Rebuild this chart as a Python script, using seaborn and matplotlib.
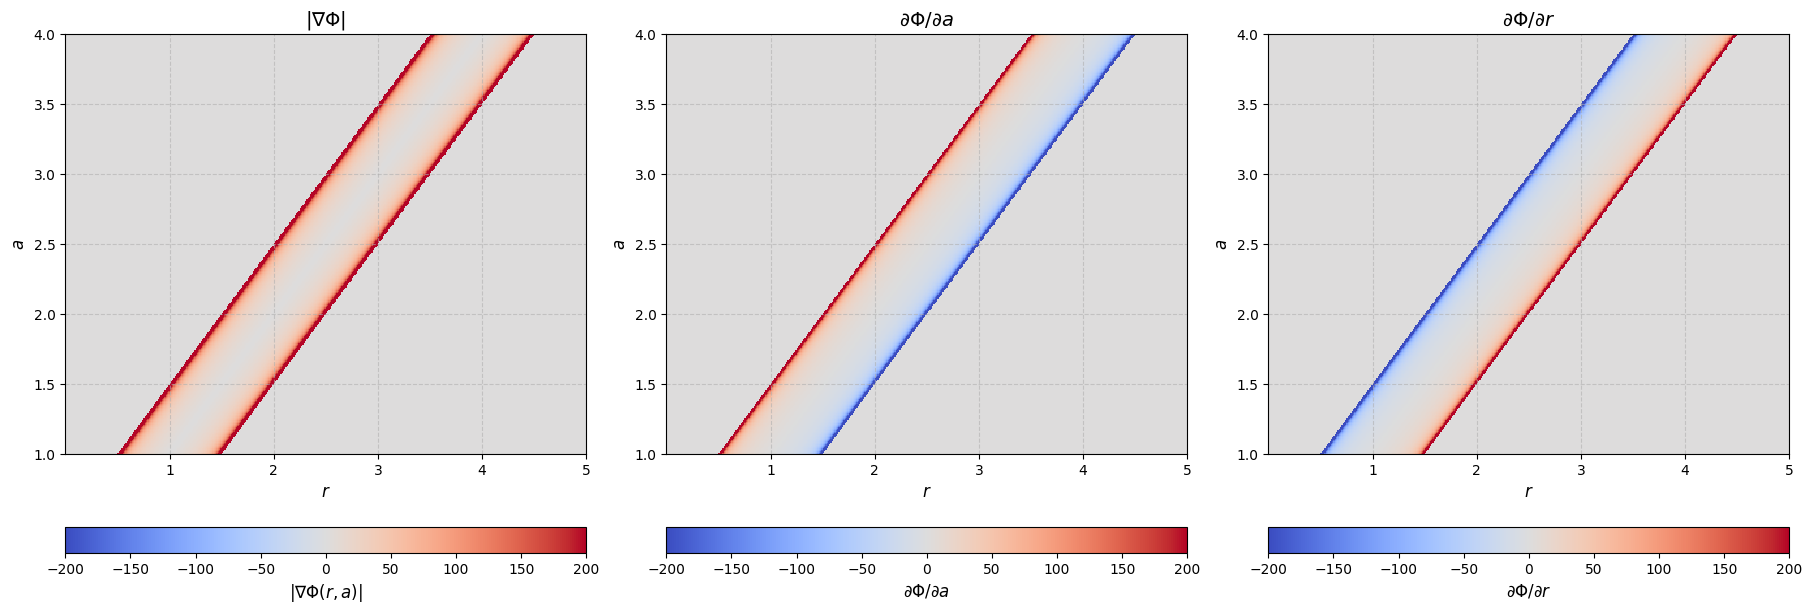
import matplotlib
matplotlib.use("Agg")
import matplotlib.pyplot as plt
import numpy as np
import pandas as pd
import seaborn as sns

# grid of the (r, a) plane
R_MIN, R_MAX, N_R = 0.0, 5.0, 400
A_MIN, A_MAX, N_A = 1.0, 4.0, 300
r_edges = np.linspace(R_MIN, R_MAX, N_R + 1)
a_edges = np.linspace(A_MIN, A_MAX, N_A + 1)
r_values = 0.5 * (r_edges[:-1] + r_edges[1:])
a_values = 0.5 * (a_edges[:-1] + a_edges[1:])

# the band a - 0.5 < r < a + 0.5 where the log-barrier potential lives
band_offsets = [-0.5, 0.5]
barrier_strength = 6.0

x_ticks = [1, 2, 3, 4, 5]
y_ticks = [1.0, 1.5, 2.0, 2.5, 3.0, 3.5, 4.0]
cbar_ticks = [-200, -150, -100, -50, 0, 50, 100, 150, 200]

titles = [r"$|\nabla\Phi|$", r"$\partial\Phi/\partial a$", r"$\partial\Phi/\partial r$"]
cbar_labels = [r"$|\nabla\Phi(r,a)|$", r"$\partial\Phi/\partial a$", r"$\partial\Phi/\partial r$"]

VLIM = 200


def _fields():
	rr, aa = np.meshgrid(r_values, a_values)
	d = rr - aa
	lo, hi = band_offsets
	inside = (d > lo) & (d < hi)
	with np.errstate(divide="ignore", invalid="ignore"):
		d_r = -barrier_strength / (d - lo) + barrier_strength / (hi - d)
	d_r = np.where(inside, d_r, 0.0)
	d_a = -d_r
	grad = np.sqrt(d_r**2 + d_a**2)
	return [grad, d_a, d_r]


def main() -> None:
	fig = plt.figure(figsize=(18.11, 6.14), dpi=100)
	W, H = 1811, 614
	lefts = [65.3, 666.3, 1268.3]
	ax_w = 521.0
	ax_bottom, ax_top = 454.0, 34.3
	cb_bottom, cb_top = 553.0, 527.3

	for field, title, clabel, left in zip(_fields(), titles, cbar_labels, lefts):
		ax = fig.add_axes([left / W, (H - ax_bottom) / H, ax_w / W, (ax_bottom - ax_top) / H])
		cax = fig.add_axes([left / W, (H - cb_bottom) / H, ax_w / W, (cb_bottom - cb_top) / H])
		df = pd.DataFrame(field, index=a_values, columns=r_values)
		sns.heatmap(
			df,
			ax=ax,
			cmap="coolwarm",
			vmin=-VLIM,
			vmax=VLIM,
			xticklabels=False,
			yticklabels=False,
			cbar=True,
			cbar_ax=cax,
			cbar_kws={"orientation": "horizontal", "ticks": cbar_ticks},
		)
		ax.set_ylim(0, N_A)
		ax.set_xlim(0, N_R)
		ax.set_xticks([(t - R_MIN) / (R_MAX - R_MIN) * N_R for t in x_ticks])
		ax.set_xticklabels([str(t) for t in x_ticks])
		ax.set_yticks([(t - A_MIN) / (A_MAX - A_MIN) * N_A for t in y_ticks])
		ax.set_yticklabels([f"{t:.1f}" for t in y_ticks])
		ax.tick_params(axis="both", labelsize=10, length=3.5, width=0.8, rotation=0)
		for spine in ax.spines.values():
			spine.set_visible(True)
			spine.set_color("black")
			spine.set_linewidth(0.8)
			spine.set_zorder(4)
		ax.grid(True, linestyle="--", color="#b0b0b0", alpha=0.6, linewidth=0.8, zorder=2)
		ax.set_axisbelow(False)
		ax.set_title(title, fontsize=14)
		ax.set_xlabel(r"$r$", fontsize=12)
		ax.set_ylabel(r"$a$", fontsize=12)

		cbar = ax.collections[0].colorbar
		cbar.outline.set_visible(True)
		cbar.outline.set_linewidth(0.8)
		cbar.outline.set_edgecolor("black")
		cbar.ax.tick_params(labelsize=10, length=3.5, width=0.8)
		cbar.set_label(clabel, fontsize=12)

	fig.savefig("out.png", dpi=100)
	plt.close(fig)


if __name__ == "__main__":
	main()
